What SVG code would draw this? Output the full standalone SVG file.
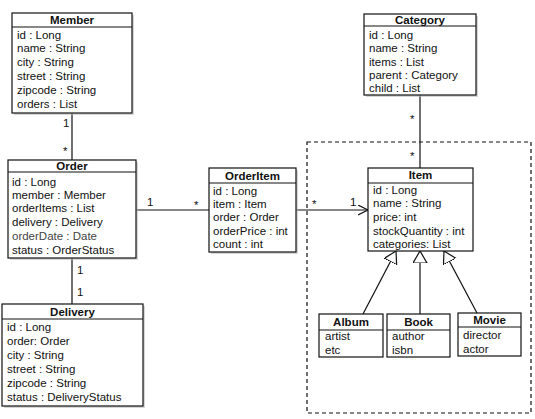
<svg xmlns="http://www.w3.org/2000/svg" width="535" height="419" viewBox="0 0 535 419">
<style>
text{font-family:"Liberation Sans",Arial,sans-serif;font-size:11.5px;fill:#111}
.t{font-weight:bold;font-size:11.5px;text-anchor:middle}
.box{fill:#fff;stroke:#111;stroke-width:1.2}
.sh{fill:#bbb;opacity:0.6}
.sep{stroke:#111;stroke-width:1.2}
.c{stroke:#111;stroke-width:1.2;fill:none}
.g{fill:#444}
</style>
<defs>
<marker id="open" markerWidth="12" markerHeight="12" refX="10" refY="5" orient="auto" markerUnits="userSpaceOnUse">
<path d="M0,0 L10,5 L0,10" fill="none" stroke="#111" stroke-width="1.2"/>
</marker>
<marker id="tri" markerWidth="16" markerHeight="16" refX="12" refY="7" orient="auto" markerUnits="userSpaceOnUse">
<path d="M0,0 L12,7 L0,14 Z" fill="#fff" stroke="#111" stroke-width="1.2"/>
</marker>
</defs>
<rect x="307" y="142" width="224" height="271" fill="none" stroke="#111" stroke-width="1.2" stroke-dasharray="4,3"/>
<g id="connectors">
<line class="c" x1="72" y1="113" x2="72" y2="160"/>
<line class="c" x1="72" y1="258" x2="72" y2="304"/>
<line class="c" x1="136" y1="210" x2="209" y2="210"/>
<line class="c" x1="296" y1="210" x2="368" y2="210" marker-end="url(#open)"/>
<line class="c" x1="420" y1="95" x2="420" y2="168"/>
<line class="c" x1="363" y1="314" x2="396" y2="251" marker-end="url(#tri)"/>
<line class="c" x1="420" y1="314" x2="420" y2="251" marker-end="url(#tri)"/>
<line class="c" x1="477" y1="313" x2="444" y2="251" marker-end="url(#tri)"/>
<text x="63" y="127">1</text>
<text x="63" y="155">*</text>
<text x="147" y="206">1</text>
<text x="194" y="209">*</text>
<text x="77" y="274">1</text>
<text x="77" y="296">1</text>
<text x="312" y="208">*</text>
<text x="350" y="206">1</text>
<text x="410" y="123">*</text>
<text x="410" y="160">*</text>
</g>
<g id="member">
<rect class="sh" x="14" y="15" width="120" height="100"/>
<rect class="box" x="12" y="13" width="120" height="100"/>
<line class="sep" x1="12" y1="27" x2="132" y2="27"/>
<text class="t" x="72" y="24">Member</text>
<text x="17" y="39">id : Long</text>
<text x="17" y="52">name : String</text>
<text x="17" y="66">city : String</text>
<text x="17" y="80">street : String</text>
<text x="17" y="94">zipcode : String</text>
<text x="17" y="108">orders : List</text>
</g>
<g id="order">
<rect class="sh" x="10" y="162" width="128" height="98"/>
<rect class="box" x="8" y="160" width="128" height="98"/>
<line class="sep" x1="8" y1="172" x2="136" y2="172"/>
<text class="t" x="72" y="170">Order</text>
<text x="12" y="186">id : Long</text>
<text x="12" y="199">member : Member</text>
<text x="12" y="212">orderItems : List</text>
<text x="12" y="226">delivery : Delivery</text>
<text class="g" x="12" y="240">orderDate : Date</text>
<text x="12" y="254">status : OrderStatus</text>
</g>
<g id="orderitem">
<rect class="sh" x="211" y="170" width="87" height="84"/>
<rect class="box" x="209" y="168" width="87" height="84"/>
<line class="sep" x1="209" y1="183" x2="296" y2="183"/>
<text class="t" x="252.5" y="180">OrderItem</text>
<text x="213" y="195">id : Long</text>
<text x="213" y="208">item : Item</text>
<text x="213" y="221">order : Order</text>
<text x="213" y="235">orderPrice : int</text>
<text x="213" y="248">count : int</text>
</g>
<g id="delivery">
<rect class="sh" x="4" y="306" width="141" height="102"/>
<rect class="box" x="2" y="304" width="141" height="102"/>
<line class="sep" x1="2" y1="319" x2="143" y2="319"/>
<text class="t" x="72.5" y="316">Delivery</text>
<text x="7" y="331">id : Long</text>
<text x="7" y="345">order: Order</text>
<text x="7" y="359">city : String</text>
<text x="7" y="373">street : String</text>
<text x="7" y="387">zipcode : String</text>
<text x="7" y="401">status : DeliveryStatus</text>
</g>
<g id="category">
<rect class="sh" x="366" y="16" width="112" height="81"/>
<rect class="box" x="364" y="14" width="112" height="81"/>
<line class="sep" x1="364" y1="26" x2="476" y2="26"/>
<text class="t" x="420" y="24">Category</text>
<text x="369" y="39">id : Long</text>
<text x="369" y="52">name : String</text>
<text x="369" y="66">items : List</text>
<text x="369" y="79">parent : Category</text>
<text x="369" y="92">child : List</text>
</g>
<g id="item">
<rect class="box" x="368" y="168" width="105" height="83"/>
<line class="sep" x1="368" y1="183" x2="473" y2="183"/>
<text class="t" x="420.5" y="179">Item</text>
<text x="373" y="194">id : Long</text>
<text x="373" y="207">name : String</text>
<text x="373" y="221">price: int</text>
<text x="373" y="235">stockQuantity : int</text>
<text x="373" y="248">categories: List</text>
</g>
<g id="album">
<rect class="box" x="319" y="314" width="64" height="43"/>
<line class="sep" x1="319" y1="330" x2="383" y2="330"/>
<text class="t" x="351" y="326">Album</text>
<text x="325" y="340">artist</text>
<text x="325" y="354">etc</text>
</g>
<g id="book">
<rect class="box" x="387" y="314" width="63" height="43"/>
<line class="sep" x1="387" y1="330" x2="450" y2="330"/>
<text class="t" x="418.5" y="326">Book</text>
<text x="392" y="340">author</text>
<text x="392" y="354">isbn</text>
</g>
<g id="movie">
<rect class="box" x="458" y="313" width="63" height="43"/>
<line class="sep" x1="458" y1="327" x2="521" y2="327"/>
<text class="t" x="489.5" y="324">Movie</text>
<text x="463" y="339">director</text>
<text x="463" y="353">actor</text>
</g>
</svg>
